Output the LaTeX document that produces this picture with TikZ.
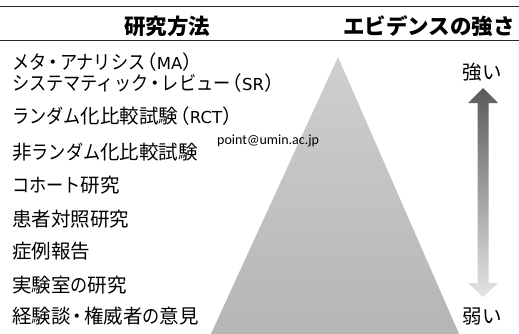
\documentclass[tikz,border=0pt]{standalone}
\usepackage{fontspec}
\usepackage{graphicx}
\setmainfont{Noto Sans CJK JP}
\newfontfamily\latinfont{DejaVu Sans}
\newfontfamily\urlfont{Carlito}
\newcommand{\kn}[1]{\scalebox{0.88}[1]{#1}}
\newcommand{\md}{{\kern-3pt・\kern-3pt}}
\newcommand{\lt}[1]{\kern-8pt（{\latinfont\fontsize{16.5}{20}\selectfont #1}）\kern-7pt}
\definecolor{tritop}{RGB}{207,207,207}
\definecolor{tribot}{RGB}{181,181,181}
\definecolor{arrtop}{RGB}{90,90,90}
\definecolor{arrbot}{RGB}{228,228,228}
\definecolor{rulecol}{RGB}{40,40,40}
\tikzset{
  item/.style={anchor=west, inner sep=0pt, font=\fontsize{19.5}{22}\selectfont},
  head/.style={inner sep=0pt, font=\fontsize{21.5}{24}\selectfont\bfseries},
  label/.style={inner sep=0pt, font=\fontsize{19.5}{22}\selectfont},
  rule/.style={draw=rulecol, line width=0.9pt}
}
\begin{document}
\begin{tikzpicture}[x=1pt,y=-1pt]
\useasboundingbox (0,0) rectangle (519,333);
\begin{scope}
\clip (0,0) rectangle (519,333);
% pyramid
\shade[top color=tritop, bottom color=tribot] (338,57) -- (460,336) -- (210,336) -- cycle;
\end{scope}
% rules
\coordinate (r1l) at (0,6); \coordinate (r1r) at (519,6);
\coordinate (r2l) at (0,40); \coordinate (r2r) at (519,40);
\draw[rule] (r1l) -- (r1r);
\draw[rule] (r2l) -- (r2r);
% headers
\node[head] (h1) at (167,26) {研究方法};
\node[head] (h2) at (429,26) {エビデンスの強さ};
% items
\node[item] (t1) at (12,62) {\kn{メタ}\md\kn{アナリシス}\lt{MA}};
\node[item] (t2) at (12,83) {\kn{システマティック}\md\kn{レビュー}\lt{SR}};
\node[item] (t3) at (12,116) {\kn{ランダム}化比較試験\lt{RCT}};
\node[item] (t4) at (12,152) {非\kn{ランダム}化比較試験};
\node[inner sep=0pt, anchor=west, font=\urlfont\fontsize{14}{16}\selectfont] (url) at (217,141) {point@umin.ac.jp};
\node[item] (t5) at (12,185) {\kn{コホート}研究};
\node[item] (t6) at (12,219) {患者対照研究};
\node[item] (t7) at (12,251) {症例報告};
\node[item] (t8) at (12,285) {実験室\kn{の}研究};
\node[item] (t9) at (12,316) {経験談\md 権威者\kn{の}意見};
% strength arrow
\shade[top color=arrtop, bottom color=arrbot]
  (483,88) -- (498,103) -- (488.5,103) -- (488.5,283) -- (498,283) -- (483,297)
  -- (468,283) -- (477.5,283) -- (477.5,103) -- (468,103) -- cycle;
\node[label] (strong) at (482,72) {強い};
\node[label] (weak) at (482,316) {弱い};
\end{tikzpicture}
\end{document}
